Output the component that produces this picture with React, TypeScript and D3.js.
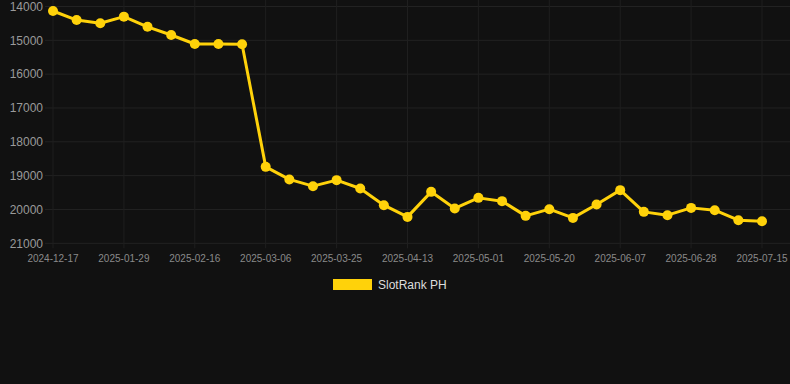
import React from "react";
import * as d3 from "d3";

const dates: string[] = [
  "2024-12-17", "2025-01-17", "2025-01-23",
  "2025-01-29", "2025-02-04", "2025-02-10",
  "2025-02-16", "2025-02-22", "2025-02-28",
  "2025-03-06", "2025-03-12", "2025-03-19",
  "2025-03-25", "2025-03-31", "2025-04-07",
  "2025-04-13", "2025-04-19", "2025-04-25",
  "2025-05-01", "2025-05-07", "2025-05-14",
  "2025-05-20", "2025-05-26", "2025-06-01",
  "2025-06-07", "2025-06-14", "2025-06-21",
  "2025-06-28", "2025-07-03", "2025-07-09",
  "2025-07-15",
];

const ranks: number[] = [
  14133, 14400, 14497, 14300, 14600, 14843, 15109, 15109, 15118,
  18740, 19112, 19311, 19133, 19379, 19873, 20219, 19479, 19970,
  19657, 19754, 20189, 19991, 20249, 19852, 19429, 20071, 20169,
  19953, 20021, 20317, 20346,
];

const yTicks: number[] = [14000, 15000, 16000, 17000, 18000, 19000, 20000, 21000];
const seriesName = "SlotRank PH";

const W = 790;
const H = 384;
const left = 53;
const right = 762;
const top = 6.5;
const bottom = 243.3;
const color = "#FFD20A";

export default function App() {
  const x = d3.scalePoint<number>().domain(d3.range(dates.length)).range([left, right]);
  const y = d3.scaleLinear().domain([14000, 21000]).range([top, bottom]);
  const line = d3
    .line<number>()
    .x((_, i) => x(i) as number)
    .y((d) => y(d));
  const tickIdx = d3.range(0, dates.length, 3);

  return (
    <svg
      width={W}
      height={H}
      style={{ position: "absolute", left: 0, top: 0, background: "#111111", display: "block" }}
      fontFamily="Arial, 'Liberation Sans', Helvetica, sans-serif"
    >
      <rect x={0} y={0} width={W} height={H} fill="#111111" />
      {yTicks.map((t) => (
        <g key={t}>
          <line x1={45} x2={W} y1={y(t)} y2={y(t)} stroke="#222222" strokeWidth={1} />
          <text x={43} y={y(t)} dy="0.35em" textAnchor="end" fontSize={12} fill="#9a9a9a">
            {t}
          </text>
        </g>
      ))}
      {tickIdx.map((i) => (
        <g key={i}>
          <line x1={x(i)} x2={x(i)} y1={0} y2={bottom + 5} stroke="#1f1f1f" strokeWidth={1} />
          <text x={x(i)} y={258} dy="0.35em" textAnchor="middle" fontSize={10} fill="#8a8a8a">
            {dates[i]}
          </text>
        </g>
      ))}
      <path d={line(ranks) || ""} fill="none" stroke={color} strokeWidth={3} strokeLinejoin="round" />
      {ranks.map((v, i) => (
        <circle key={i} cx={x(i)} cy={y(v)} r={5} fill={color} />
      ))}
      <rect x={333} y={279} width={39} height={11} fill={color} />
      <text x={378} y={285} dy="0.35em" fontSize={12} fill="#dddddd">
        {seriesName}
      </text>
    </svg>
  );
}
